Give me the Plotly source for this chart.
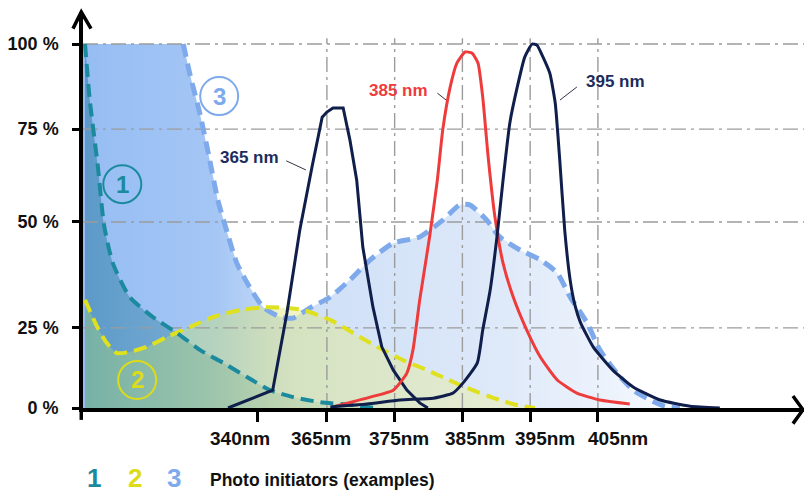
import plotly.graph_objects as go

# ---------------- data ----------------
# x values are positions on the chart's wavelength axis (labelled ticks below)
x_tick_pos = [354.8, 365, 375, 385, 395, 405]
x_tick_labels = ["340nm", "365nm", "375nm", "385nm", "395nm", "405nm"]
x_label_pos = [352.2, 364.1, 375.6, 386.8, 397.2, 408.0]   # where the tick texts sit
# y values are positions on the chart's percentage axis
y_tick_pos = [0, 22.0, 51.1, 76.6, 100]
y_tick_labels = ["0 %", "25 %", "50 %", "75 %", "100 %"]

# photo initiator 1 (teal)
pi1_x = [329.3, 330.0, 331.2, 332.1, 333.4, 335.9, 339.3, 342.9, 346.3, 349.7,
         353.2, 356.6, 360.0, 364.0, 368.9, 372.1]
pi1_y = [100, 84.6, 66.2, 50.3, 39.8, 30.5, 25.0, 20.6, 15.9, 12.4,
         8.5, 4.9, 3.0, 1.6, 0.8, 0]

# photo initiator 2 (yellow)
pi2_x = [329.3, 331.1, 332.5, 334.0, 335.9, 338.4, 341.4, 344.8, 348.2, 352.2,
         356.2, 359.1, 361.5, 365.5, 368.9, 372.4, 376.2, 379.8, 381.7, 385.7,
         390.5, 393.1, 395.7]
pi2_y = [29.7, 22.3, 17.9, 15.1, 15.4, 16.8, 19.5, 22.3, 25.0, 26.9,
         27.7, 27.5, 26.9, 24.2, 20.6, 16.8, 13.2, 10.4, 8.8, 5.5,
         2.2, 0.8, 0]

# photo initiator 3 (light blue)
pi3_x = [329.0, 343.8, 344.8, 346.3, 347.7, 348.9, 350.3, 351.7, 353.6, 355.6,
         358.1, 360.0, 362.5, 365.5, 368.4, 371.4, 374.8, 378.7, 382.1, 384.6,
         386.1, 388.6, 390.5, 393.5, 396.5, 399.0, 400.9, 403.4, 405.3, 407.8,
         410.2, 412.7, 414.9, 417.1]
pi3_y = [100, 100, 91.5, 80.5, 68.1, 57.1, 48.1, 39.8, 33.2, 27.7,
         25.0, 24.7, 27.5, 30.5, 35.2, 40.7, 45.3, 47.0, 51.6, 55.8,
         55.8, 51.6, 47.0, 43.4, 40.7, 37.1, 30.5, 23.4, 15.9, 9.6,
         4.9, 2.2, 0.5, 0]

# LED emission spectra
led365_x = [350.4, 357.0, 359.1, 361.0, 362.8, 364.3, 365.0, 365.9, 367.4, 368.4,
            369.4, 370.3, 371.8, 373.1, 374.8, 376.8, 378.7, 379.9]
led365_y = [0, 4.9, 26.1, 48.9, 66.2, 79.9, 81.3, 82.4, 82.4, 73.6,
            62.6, 44.2, 27.7, 16.8, 10.4, 4.9, 1.4, 0]

led385_x = [365.9, 371.4, 374.8, 376.8, 377.7, 378.7, 380.2, 381.3, 382.1, 383.2,
            384.2, 385.4, 386.4, 387.3, 388.0, 388.8, 389.8, 391.0, 392.5, 394.5,
            396.5, 399.0, 401.9, 405.3, 409.7]
led385_y = [0.3, 3.0, 4.9, 9.6, 15.9, 29.7, 47.5, 62.6, 76.4, 88.2,
            94.8, 97.8, 97.5, 94.8, 85.4, 69.0, 52.5, 39.8, 30.5, 21.4,
            14.0, 7.7, 4.1, 2.2, 1.1]

led395_x = [365.5, 370.9, 375.8, 380.7, 383.6, 385.1, 387.2, 388.0, 389.1, 390.1,
            391.0, 392.0, 393.1, 394.2, 395.3, 396.0, 396.9, 397.9, 398.7, 399.4,
            400.1, 400.9, 401.6, 402.4, 404.3, 407.2, 410.2, 414.2, 418.6, 423.0]
led395_y = [0.3, 1.1, 2.2, 2.7, 4.1, 6.9, 12.4, 21.4, 32.4, 47.0,
            62.6, 78.3, 88.2, 96.4, 100, 99.7, 96.4, 92.0, 83.8, 67.3,
            48.9, 35.2, 28.3, 23.6, 16.8, 10.4, 5.8, 2.2, 0.5, 0]

# labels
pi_labels = ["1", "2", "3"]
pi_label_x = [334.8, 337.0, 349.1]
pi_label_y = [61.5, 7.7, 85.7]

led_labels = ["365 nm", "385 nm", "395 nm"]
led_label_x = [353.6, 375.6, 407.6]
led_label_y = [68.7, 87.1, 89.6]
leader_x0 = [359.0, 381.3, 401.9]
leader_y0 = [67.9, 86.5, 88.2]
leader_x1 = [361.9, 382.6, 399.4]
leader_y1 = [65.4, 84.6, 84.6]

caption = "Photo initiators (examples)"

# ---------------- styling ----------------
X_RANGE = [329, 435.42]
Y_RANGE = [0, 108.79]
FONT = "Liberation Sans, Arial, sans-serif"
TEAL = "#1b8a9e"
YELLOW = "#dfe01e"
LBLUE = "#7eaaec"
NAVY = "#0f1e4b"
RED = "#ee3b3b"
NAVY_TXT = "#1c2c5c"
GRID = "#9c9c9c"
DASH = "13px,7px"
SMOOTH = dict(shape="spline", smoothing=0.6)

fig = go.Figure()

# fills (back to front: 3, 1, 2)
fig.add_trace(go.Scatter(
    x=pi3_x, y=pi3_y, mode="lines", line=dict(width=0),
    fill="tozeroy",
    fillgradient=dict(type="horizontal", start=329, stop=417,
                      colorscale=[[0, "rgb(150,189,243)"], [0.22, "rgb(164,198,245)"],
                                  [0.36, "rgb(206,223,247)"], [0.7, "rgb(222,233,249)"],
                                  [1, "rgb(246,249,254)"]]),
    hoverinfo="skip", showlegend=False))
fig.add_trace(go.Scatter(
    x=pi1_x, y=pi1_y, mode="lines", line=dict(width=0, **SMOOTH), fill="tozeroy",
    fillgradient=dict(type="horizontal", start=329, stop=372,
                      colorscale=[[0, "rgba(30,115,155,0.48)"], [0.5, "rgba(45,130,150,0.32)"],
                                  [1, "rgba(70,140,140,0.12)"]]),
    hoverinfo="skip", showlegend=False))
fig.add_trace(go.Scatter(
    x=pi2_x, y=pi2_y, mode="lines", line=dict(width=0, **SMOOTH), fill="tozeroy",
    fillgradient=dict(type="horizontal", start=329, stop=396,
                      colorscale=[[0, "rgba(160,215,110,0.38)"], [0.4, "rgba(220,230,120,0.45)"],
                                  [1, "rgba(242,242,160,0.4)"]]),
    hoverinfo="skip", showlegend=False))

# grid lines (dash-dot) drawn above the fills, below the curves
gx, gy = [], []
for yv in y_tick_pos[1:]:
    gx += [X_RANGE[0], X_RANGE[1], None]
    gy += [yv, yv, None]
for xv in x_tick_pos[1:]:
    gx += [xv, xv, None]
    gy += [0, 101.6, None]
fig.add_trace(go.Scatter(x=gx, y=gy, mode="lines",
                         line=dict(color=GRID, width=1.4, dash="15px,5px,3px,5px"),
                         hoverinfo="skip", showlegend=False))

# dashed photo-initiator curves
fig.add_trace(go.Scatter(x=pi3_x[1:], y=pi3_y[1:], mode="lines",
                         line=dict(color=LBLUE, width=5, dash=DASH, **SMOOTH), showlegend=False))
fig.add_trace(go.Scatter(x=pi2_x, y=pi2_y, mode="lines",
                         line=dict(color=YELLOW, width=4, dash=DASH, **SMOOTH), showlegend=False))
fig.add_trace(go.Scatter(x=pi1_x, y=pi1_y, mode="lines",
                         line=dict(color=TEAL, width=4, dash=DASH, **SMOOTH), showlegend=False))

# LED curves
fig.add_trace(go.Scatter(x=led365_x, y=led365_y, mode="lines",
                         line=dict(color=NAVY, width=3), showlegend=False))
fig.add_trace(go.Scatter(x=led385_x, y=led385_y, mode="lines",
                         line=dict(color=RED, width=3, shape="spline", smoothing=0.5),
                         showlegend=False))
fig.add_trace(go.Scatter(x=led395_x, y=led395_y, mode="lines",
                         line=dict(color=NAVY, width=3, shape="spline", smoothing=0.5),
                         showlegend=False))

# leader lines
lx, ly = [], []
for a, b, c, d in zip(leader_x0, leader_y0, leader_x1, leader_y1):
    lx += [a, c, None]
    ly += [b, d, None]
fig.add_trace(go.Scatter(x=lx, y=ly, mode="lines", line=dict(color="#333344", width=1),
                         hoverinfo="skip", showlegend=False))

annotations = []
shapes = []
pi_colors = [TEAL, "#dcdc18", LBLUE]
for t, x, y, c in zip(pi_labels, pi_label_x, pi_label_y, pi_colors):
    shapes.append(dict(type="circle", xref="x", yref="y", xsizemode="pixel", ysizemode="pixel",
                       xanchor=x, yanchor=y, x0=-19, x1=19, y0=-19, y1=19,
                       line=dict(color=c, width=2), fillcolor="rgba(0,0,0,0)", layer="above"))
    annotations.append(dict(x=x, y=y, xref="x", yref="y", text=t, showarrow=False,
                            font=dict(family=FONT, size=24, color=c, weight="bold")))

led_colors = [NAVY_TXT, RED, NAVY_TXT]
for t, x, y, c in zip(led_labels, led_label_x, led_label_y, led_colors):
    annotations.append(dict(x=x, y=y, xref="x", yref="y", text=t, showarrow=False,
                            font=dict(family=FONT, size=17, color=c, weight="bold")))

# x tick texts (set slightly wider apart than the ticks, as in the picture)
for t, x in zip(x_tick_labels, x_label_pos):
    annotations.append(dict(x=x, y=-0.078, xref="x", yref="paper", text=t, showarrow=False,
                            xanchor="center", yanchor="middle",
                            font=dict(family=FONT, size=19, color="#111111", weight="bold")))

# bottom legend row
for t, px, c in zip(pi_labels, [0.0153, 0.0721, 0.1262], pi_colors):
    annotations.append(dict(x=px, y=-0.178, xref="paper", yref="paper", text=t,
                            showarrow=False, xanchor="center", yanchor="middle",
                            font=dict(family=FONT, size=26, color=c, weight="bold")))
annotations.append(dict(x=0.1734, y=-0.182, xref="paper", yref="paper", text=caption,
                        showarrow=False, xanchor="left", yanchor="middle",
                        font=dict(family=FONT, size=17.5, color="#111111", weight="bold")))

# axis arrow heads
shapes.append(dict(type="path", xref="paper", yref="paper",
                   path="M -0.0139,0.958 L -0.0024,1.0 L 0.0111,0.958",
                   line=dict(color="black", width=3.5), layer="above"))
shapes.append(dict(type="path", xref="paper", yref="paper",
                   path="M 0.9847,0.0303 L 0.9986,-0.0045 L 0.9847,-0.0394",
                   line=dict(color="black", width=3.5), layer="above"))
shapes.append(dict(type="line", xref="paper", yref="paper", x0=-0.0024, x1=-0.0024,
                   y0=0, y1=-0.03, line=dict(color="black", width=3.5)))

fig.update_layout(
    width=804, height=493,
    margin=dict(l=83, r=0, t=12, b=85),
    paper_bgcolor="white", plot_bgcolor="white",
    showlegend=False,
    font=dict(family=FONT, color="#111111"),
    annotations=annotations, shapes=shapes,
    xaxis=dict(range=X_RANGE, showgrid=False, zeroline=False, showline=True,
               linecolor="black", linewidth=3.5, ticks="outside", ticklen=10,
               tickwidth=3, tickcolor="black", tickvals=x_tick_pos,
               ticktext=[""] * len(x_tick_pos), fixedrange=True),
    yaxis=dict(range=Y_RANGE, showgrid=False, zeroline=False, showline=True,
               linecolor="black", linewidth=3.5, ticks="outside", ticklen=7,
               tickwidth=3, tickcolor="black", tickvals=y_tick_pos, ticktext=y_tick_labels,
               tickfont=dict(family=FONT, size=18, color="#111111", weight="bold"),
               ticklabelstandoff=10, fixedrange=True),
)

fig.write_html("out.html")
